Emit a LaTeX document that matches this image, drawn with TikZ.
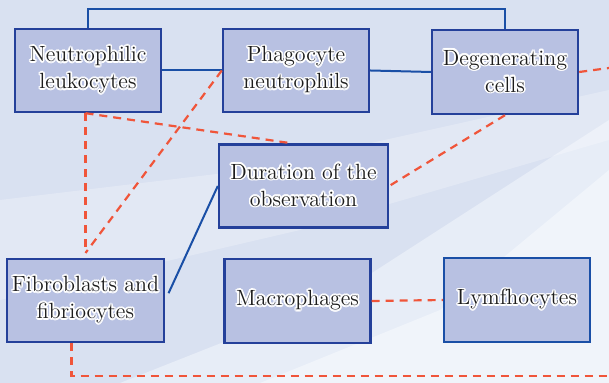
\documentclass[tikz,border=0pt]{standalone}
\usepackage{tikz}
\usepackage[copies]{contour}
\contourlength{0.8pt}
\contournumber{16}
\definecolor{sky}{HTML}{D9E1F1}
\definecolor{cloud}{HTML}{F6F9FD}
\definecolor{boxfill}{HTML}{B8C1E2}
\definecolor{boxline}{HTML}{24409A}
\definecolor{link}{HTML}{1A4FA6}
\definecolor{loose}{HTML}{F0553A}
\definecolor{ink}{HTML}{1C1C1C}

\newcommand{\glow}[1]{\contour{white}{#1}}

\begin{document}
\begin{tikzpicture}[x=0.5pt, y=-0.5pt,
    cell/.style={draw=boxline, line width=1.2pt, fill=boxfill, minimum width=73pt,
                 minimum height=41.5pt, align=center, font=\rmfamily\fontsize{11}{13.5}\selectfont,
                 text=ink, inner sep=1pt},
    solid link/.style={draw=link, line width=1pt},
    dashed link/.style={draw=loose, line width=1.1pt, dash pattern=on 4pt off 3pt}
  ]
    \useasboundingbox (0,0) rectangle (609,383);
    \fill[sky] (0,0) rectangle (609,383);
    \fill[cloud, opacity=0.5] (609,120) -- (609,383) -- (120,383) -- (330,300) -- cycle;
    \fill[cloud, opacity=0.6] (609,170) -- (609,383) -- (260,383) -- (440,310) -- cycle;
    \fill[white, opacity=0.25] (0,200) -- (250,170) -- (609,90) -- (609,140) -- (300,230) -- (0,300) -- cycle;

    \node[cell] (neu) at (88,70.5) {\glow{Neutrophilic}\\\glow{leukocytes}};
    \node[cell] (pha) at (296,70.5) {\glow{Phagocyte}\\\glow{neutrophils}};
    \node[cell, minimum height=42pt] (deg) at (505,72) {\glow{Degenerating}\\\glow{cells}};
    \node[cell, minimum width=84.5pt] (dur) at (303.5,186) {\glow{Duration of the}\\\glow{observation}};
    \node[cell, minimum width=78.5pt] (fib) at (85.5,300.5) {\glow{Fibroblasts and}\\\glow{fibriocytes}};
    \node[cell, minimum height=42pt] (mac) at (297.5,301) {\glow{Macrophages}};
    \node[cell, minimum height=42pt, draw=link] (lym) at (517,300) {\glow{Lymfhocytes}};

    \coordinate (meet) at (85.5,253);
    \coordinate (topright) at (609,68);
    \coordinate (bottomright) at (609,376);

    \draw[solid link] (neu.north) -- ++(0,-19) -| (deg.north);
    \draw[solid link] (neu.east) -- (pha.west);
    \draw[solid link] (pha.east) -- (deg.west);
    \draw[solid link, shorten <=4pt] (fib.east) -- (dur.west);

    \draw[dashed link] (neu.south -| meet) -- (meet);
    \draw[dashed link] (pha.west) -- (meet);
    \draw[dashed link] (neu.south -| meet) -- ([xshift=-6]dur.north);
    \draw[dashed link] (deg.south) -- (dur.east);
    \draw[dashed link] (deg.east) -- (topright);
    \draw[dashed link] (mac.east) -- (lym.west);
    \draw[dashed link] ([xshift=-7]fib.south) |- (bottomright);
  \end{tikzpicture}
\end{document}
